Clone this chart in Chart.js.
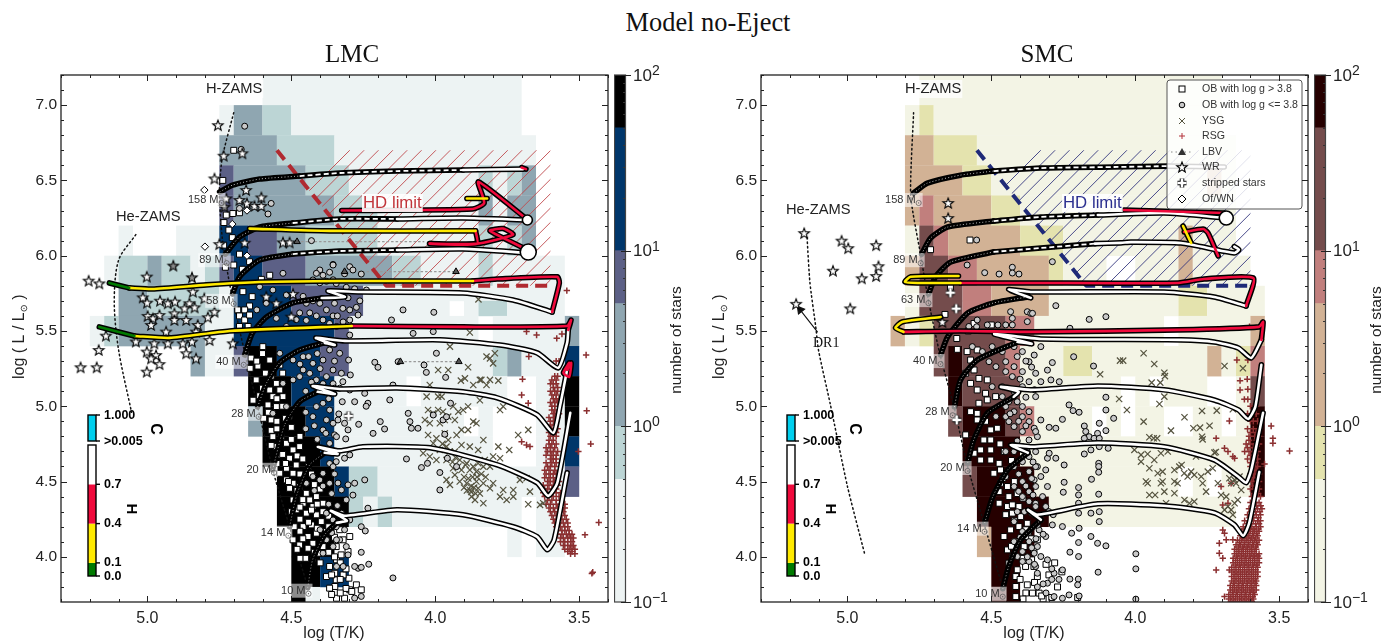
<!DOCTYPE html>
<html>
<head>
<meta charset="UTF-8">
<style>
  html, body { margin: 0; padding: 0; background: #fff; width: 1394px; height: 644px; overflow: hidden; }
  canvas { position: absolute; top: 0; }
  #title { position: absolute; left: 0; width: 1416px; top: 7px; text-align: center; font: 26.4px "Liberation Serif", serif; color: #111; }
</style>
<script src="https://cdn.jsdelivr.net/npm/chart.js@4"></script>
</head>
<body>
<div id="title">Model no-Eject</div>
<canvas id="lmc" width="610" height="644" style="left:0"></canvas>
<canvas id="lmcBar" width="90" height="644" style="left:614px"></canvas>
<canvas id="smc" width="610" height="644" style="left:700px"></canvas>
<canvas id="smcBar" width="90" height="644" style="left:1314px"></canvas>
<script>
// axis ticks
const xMajor = [5.0, 4.5, 4.0, 3.5];
const xMinor = [5.3, 5.2, 5.1, 4.9, 4.8, 4.7, 4.6, 4.4, 4.3, 4.2, 4.1, 3.9, 3.8, 3.7, 3.6, 3.4];
const yMajor = [7.0, 6.5, 6.0, 5.5, 5.0, 4.5, 4.0];
const yMinor = [7.2, 7.1, 6.9, 6.8, 6.7, 6.6, 6.4, 6.3, 6.2, 6.1, 5.9, 5.8, 5.7, 5.6, 5.4, 5.3, 5.2, 5.1, 4.9, 4.8, 4.7, 4.6, 4.4, 4.3, 4.2, 4.1, 3.9, 3.8];

// colour bar
const barLevels = [0.1, 0.5, 1, 5, 10, 50, 100];
const barMinor = [0.2, 0.3, 0.4, 0.5, 0.6, 0.7, 0.8, 0.9, 2, 3, 4, 5, 6, 7, 8, 9, 20, 30, 40, 50, 60, 70, 80, 90];
const lmcColors = ['#edf3f3', '#bcd5d5', '#8fa6b1', '#5c6086', '#00366a', '#000000'];
const smcColors = ['#f3f4e5', '#e4e3ae', '#d2b295', '#c17f7d', '#744c4c', '#260000'];

// star-count grid, one list per row: [first column, last column, colour bar band]
// a column is 0.05 dex wide, column 0 starts at log T = 5.30
const rowTops    = [7.2, 7.0, 6.8, 6.6, 6.4, 6.2, 6.0, 5.8, 5.7, 5.6, 5.4, 5.2, 5.0, 4.8, 4.6, 4.4, 4.2, 4.0, 3.8];
const rowBottoms = [7.0, 6.8, 6.6, 6.4, 6.2, 6.0, 5.8, 5.7, 5.6, 5.4, 5.2, 5.0, 4.8, 4.6, 4.4, 4.2, 4.0, 3.8, 3.6];
const lmcGrid = [
  [[14,31,1]],
  [[11,11,1],[12,13,3],[14,15,2],[16,31,1]],
  [[11,14,3],[15,18,2],[19,32,1]],
  [[11,11,4],[12,16,3],[17,19,2],[20,28,1],[29,29,2],[30,30,1],[31,31,2],[32,32,3]],
  [[11,11,4],[12,18,3],[19,21,2],[22,28,1],[29,29,3],[30,30,1],[31,32,3]],
  [[4,4,1],[8,10,1],[11,12,5],[13,14,4],[15,16,3],[17,21,2],[22,28,1],[29,29,2],[30,30,1],[31,31,2],[32,32,3]],
  [[3,3,1],[4,5,2],[6,6,3],[7,8,2],[9,9,1],[10,10,2],[11,11,4],[12,13,5],[14,16,4],[17,22,3],[23,24,2],[25,28,1],[29,29,2],[30,34,1]],
  [[4,5,3],[6,10,2],[11,11,1],[12,15,5],[16,20,4],[21,34,1]],
  [[4,5,3],[6,10,2],[11,11,1],[12,15,5],[16,20,4],[21,26,1],[28,28,1],[29,30,2],[31,34,1]],
  [[2,2,1],[3,3,2],[4,9,3],[10,11,1],[12,18,5],[19,19,4],[20,28,1],[30,34,1],[35,35,3]],
  [[9,9,3],[10,11,1],[12,12,4],[13,14,6],[15,17,5],[18,19,4],[20,29,1],[30,30,2],[31,31,3],[32,34,1],[35,35,5]],
  [[13,15,6],[16,18,5],[19,23,1],[25,30,1],[33,34,1],[35,35,6]],
  [[13,13,3],[14,16,6],[17,18,5],[19,27,1],[29,29,1],[33,34,1],[35,35,6]],
  [[14,17,6],[18,18,5],[19,29,1],[33,34,1],[35,35,5]],
  [[15,18,6],[19,19,5],[20,21,2],[22,34,1],[35,35,4]],
  [[15,19,6],[20,20,2],[21,21,1],[22,22,2],[23,31,1],[33,34,1]],
  [[16,18,6],[31,31,1],[33,34,1]],
  [[16,17,6],[18,19,5]],
  [[16,16,6],[17,17,1]]
];
const smcGrid = [
  [[11,31,1]],
  [[10,10,1],[11,11,2],[12,31,1]],
  [[10,11,3],[12,14,2],[15,32,1]],
  [[10,13,3],[14,15,2],[16,30,1],[31,31,3],[32,32,1]],
  [[10,10,3],[11,11,4],[12,15,3],[16,17,2],[18,32,1]],
  [[10,10,1],[11,11,5],[12,12,4],[13,17,3],[18,20,2],[21,28,1],[29,29,3],[30,32,1]],
  [[10,10,3],[11,12,5],[13,14,4],[15,19,3],[20,20,2],[21,23,1],[26,28,1],[29,29,3],[30,33,1]],
  [[10,10,1],[11,13,5],[14,15,4],[16,19,3],[20,28,1],[29,30,2],[31,34,1]],
  [[10,10,1],[11,13,5],[14,15,4],[16,19,3],[20,28,1],[29,30,2],[31,34,1]],
  [[9,9,3],[10,10,1],[11,11,2],[12,16,5],[17,18,4],[19,27,1],[29,33,1],[34,34,3]],
  [[12,12,5],[13,13,6],[14,16,5],[17,17,4],[18,20,1],[21,22,2],[23,30,1],[31,31,3],[32,32,1],[33,33,2],[34,34,4]],
  [[13,13,6],[14,17,5],[18,24,1],[26,26,1],[28,30,1],[33,33,1],[34,34,5]],
  [[13,13,5],[14,16,6],[17,17,5],[18,18,4],[19,22,1],[24,24,1],[26,27,1],[30,31,1],[33,33,1],[34,34,6]],
  [[14,17,6],[18,33,1],[34,34,6]],
  [[14,14,5],[15,18,6],[19,28,1],[30,30,1],[32,33,1],[34,34,6]],
  [[15,19,6],[20,32,1]],
  [[15,15,3],[16,18,6]],
  [[16,17,6]],
  [[16,16,5],[17,17,6]]
];

// HD limit outline
const hdLimit = [[4.55, 6.7], [3.6, 6.7], [3.6, 5.8], [4.17, 5.8]];
const hdDash = [[4.55, 6.7], [4.17, 5.8], [3.6, 5.8]];

// ZAMS lines
const lmcHZams = [[4.70, 6.95], [4.74, 6.65], [4.75, 6.42], [4.74, 6.12], [4.715, 5.82], [4.66, 5.34], [4.617, 5.0], [4.565, 4.58], [4.506, 4.2], [4.443, 3.8]];
const lmcHeZams = [[5.04, 6.14], [5.10, 5.97], [5.115, 5.69], [5.10, 5.375], [5.055, 4.96]];
const smcHZams = [[4.77, 6.95], [4.78, 6.4], [4.745, 6.0], [4.72, 5.72], [4.678, 5.34], [4.63, 5.0], [4.585, 4.62], [4.525, 4.22], [4.46, 3.79]];
const smcHeZams = [[5.14, 6.12], [5.13, 5.82], [5.11, 5.53], [5.10, 5.37], [5.06, 5.02], [5.0, 4.47], [4.94, 4.02]];
const dr1Arrow = [[5.164, 5.64], [5.104, 5.494]];

// LMC tracks: rising (black) part, dashed part, then white, red, yellow, green parts
const lmcT158Rise = [[4.749, 6.423], [4.704, 6.469], [4.61, 6.509], [4.471, 6.529]];
const lmcT158Early = [[4.471, 6.529], [4.332, 6.549], [4.133, 6.562], [3.904, 6.569]];
const lmcT158White = [[3.904, 6.569], [3.695, 6.575]];
const lmcT158Red = [[3.7, 6.585], [3.685, 6.575]];
const lmcT89Rise = [[4.729, 6.011], [4.68, 6.124], [4.61, 6.19], [4.495, 6.217]];
const lmcT89Early = [[4.495, 6.217], [4.332, 6.244], [4.133, 6.244]];
const lmcT89White = [[4.133, 6.244], [3.904, 6.25], [3.68, 6.237]];
const lmcT89Red = [[3.68, 6.24], [3.85, 6.49], [3.83, 6.35], [3.87, 6.31], [4.325, 6.30]];
const lmcT89Yellow = [[3.82, 6.38], [3.89, 6.38]];
const lmcT58Rise = [[4.704, 5.746], [4.68, 5.859], [4.61, 5.971], [4.495, 6.011]];
const lmcT58Early = [[4.495, 6.011], [4.332, 6.031], [4.133, 6.038]];
const lmcT58White = [[4.133, 6.038], [3.904, 6.045], [3.677, 6.018]];
const lmcT58Red = [[3.68, 6.04], [3.81, 6.165], [3.765, 6.18], [3.73, 6.14], [3.855, 6.08], [4.02, 6.08], [3.855, 6.08], [3.86, 6.165]];
const lmcT58Yellow = [[3.86, 6.165], [4.367, 6.165], [4.645, 6.18]];
const lmcT40Rise = [[4.662, 5.341], [4.635, 5.487], [4.586, 5.593], [4.495, 5.686], [4.394, 5.719]];
const lmcT40White = [[4.394, 5.719], [4.314, 5.726], [4.373, 5.766], [4.262, 5.759], [3.904, 5.752], [3.73, 5.706], [3.594, 5.626]];
const lmcT40Red = [[3.594, 5.626], [3.569, 5.819], [3.576, 5.859], [3.785, 5.845], [3.869, 5.832]];
const lmcT40Yellow = [[3.869, 5.832], [4.332, 5.832], [4.61, 5.825], [4.795, 5.806], [4.983, 5.779], [5.063, 5.786]];
const lmcT40Green = [[5.063, 5.786], [5.132, 5.819]];
const lmcT28Rise = [[4.617, 4.996], [4.586, 5.155], [4.541, 5.288], [4.471, 5.374], [4.384, 5.421]];
const lmcT28White = [[4.384, 5.421], [4.349, 5.407], [4.415, 5.454], [4.314, 5.434], [3.984, 5.441], [3.775, 5.407], [3.646, 5.354], [3.573, 5.255], [3.542, 5.421], [3.538, 5.507]];
const lmcT28Red = [[3.538, 5.507], [3.528, 5.573], [3.542, 5.533], [3.904, 5.527], [4.29, 5.533]];
const lmcT28Yellow = [[4.29, 5.533], [4.715, 5.50], [4.923, 5.454], [5.045, 5.467]];
const lmcT28Green = [[5.045, 5.467], [5.167, 5.527]];
const lmcT20Rise = [[4.565, 4.578], [4.523, 4.877], [4.471, 5.03], [4.408, 5.096]];
const lmcT20White = [[4.408, 5.096], [4.349, 5.082], [4.426, 5.135], [4.332, 5.115], [4.133, 5.122], [3.904, 5.096], [3.785, 5.056], [3.646, 4.943], [3.59, 4.823], [3.566, 5.009], [3.542, 5.242]];
const lmcT20Red = [[3.542, 5.242], [3.528, 5.288], [3.535, 5.195], [3.555, 5.222], [3.535, 5.288]];
const lmcT14Rise = [[4.506, 4.2], [4.481, 4.412], [4.436, 4.611], [4.384, 4.691]];
const lmcT14White = [[4.384, 4.691], [4.339, 4.684], [4.408, 4.731], [4.332, 4.704], [4.252, 4.731], [4.018, 4.724], [3.785, 4.611], [3.646, 4.492], [3.608, 4.405], [3.576, 4.492], [3.531, 4.956]];
const lmcT10Rise = [[4.443, 3.795], [4.426, 3.981], [4.384, 4.147], [4.342, 4.226]];
const lmcT10White = [[4.342, 4.226], [4.307, 4.24], [4.363, 4.306], [4.314, 4.273], [4.133, 4.313], [3.904, 4.279], [3.73, 4.2], [3.646, 4.133], [3.611, 4.047], [3.587, 4.113], [3.542, 4.558]];
const lmcEnds = [[3.68, 6.237, 5], [3.677, 6.024, 8]];

// SMC tracks
const smcT158Rise = [[4.77, 6.416], [4.722, 6.482], [4.607, 6.535], [4.492, 6.562]];
const smcT158Early = [[4.492, 6.562], [4.328, 6.582], [4.074, 6.589], [3.886, 6.595]];
const smcT158White = [[3.886, 6.595], [3.691, 6.589]];
const smcT89Rise = [[4.742, 6.011], [4.711, 6.117], [4.652, 6.19], [4.492, 6.23]];
const smcT89Early = [[4.492, 6.23], [4.328, 6.257], [4.13, 6.27]];
const smcT89White = [[4.13, 6.27], [3.9, 6.283], [3.684, 6.25]];
const smcT89Red = [[3.691, 6.283], [4.039, 6.303]];
const smcT63Rise = [[4.718, 5.746], [4.694, 5.859], [4.641, 5.958], [4.492, 6.025]];
const smcT63Early = [[4.492, 6.025], [4.328, 6.051], [4.14, 6.08]];
const smcT63White = [[4.14, 6.08], [4.05, 6.085], [4.015, 6.09], [3.841, 6.084], [3.656, 6.018], [3.64, 6.04], [3.656, 6.06]];
const smcT63Red = [[3.712, 5.998], [3.747, 6.15], [3.764, 6.177], [3.83, 6.157]];
const smcT63Yellow = [[3.834, 6.197], [3.806, 6.084]];
const smcT40Rise = [[4.676, 5.341], [4.652, 5.46], [4.582, 5.62], [4.492, 5.686], [4.373, 5.726]];
const smcT40White = [[4.373, 5.726], [4.363, 5.72], [4.44, 5.775], [4.363, 5.759], [3.9, 5.759], [3.726, 5.726], [3.615, 5.666]];
const smcT40Red = [[3.615, 5.666], [3.59, 5.852], [3.761, 5.845], [3.851, 5.819], [4.363, 5.819], [4.607, 5.819]];
const smcT40Yellow = [[4.607, 5.819], [4.756, 5.819], [4.80, 5.826], [4.78, 5.86], [4.614, 5.865]];
const smcT28Rise = [[4.628, 4.996], [4.607, 5.175], [4.548, 5.308], [4.408, 5.427]];
const smcT28White = [[4.408, 5.427], [4.36, 5.415], [4.49, 5.48], [4.328, 5.447], [3.841, 5.441], [3.726, 5.427], [3.642, 5.387], [3.597, 5.321], [3.562, 5.441]];
const smcT28Red = [[3.562, 5.441], [3.556, 5.56], [3.57, 5.527], [3.851, 5.507], [4.363, 5.494], [4.607, 5.5], [4.805, 5.494]];
const smcT28Yellow = [[4.805, 5.494], [4.833, 5.52], [4.81, 5.56], [4.676, 5.593]];
const smcT20Rise = [[4.582, 4.624], [4.561, 4.777], [4.513, 4.956], [4.422, 5.062]];
const smcT20White = [[4.422, 5.062], [4.405, 5.096], [4.467, 5.129], [4.363, 5.109], [4.13, 5.135], [3.9, 5.109], [3.726, 5.042], [3.642, 4.976], [3.608, 4.916], [3.583, 4.996], [3.562, 5.275]];
const smcT14Rise = [[4.523, 4.226], [4.495, 4.399], [4.443, 4.578], [4.373, 4.691]];
const smcT14White = [[4.373, 4.691], [4.433, 4.744], [4.363, 4.731], [4.13, 4.757], [3.9, 4.731], [3.726, 4.644], [3.642, 4.532], [3.615, 4.492], [3.597, 4.578], [3.556, 4.956]];
const smcT10Rise = [[4.46, 3.788], [4.44, 3.934], [4.398, 4.113], [4.328, 4.246]];
const smcT10White = [[4.328, 4.246], [4.373, 4.313], [4.339, 4.28], [4.13, 4.352], [3.9, 4.339], [3.726, 4.293], [3.656, 4.213], [3.625, 4.14], [3.604, 4.226], [3.569, 4.564]];
const smcEnds = [[3.684, 6.25, 7]];

// LMC stars
const lmcWr = [[4.755,6.867],[4.735,6.664],[4.67,6.68],[4.767,6.513],[4.657,6.436],[4.726,6.38],[4.604,6.387],[4.68,6.37],[4.654,6.347],[4.628,6.33],[4.604,6.33],[4.75,6.077],[4.662,6.086],[4.529,6.088],[4.506,6.088],[5.204,5.834],[5.167,5.816],[5.002,5.861],[4.842,5.761],[5.016,5.723],[5.001,5.688],[4.956,5.701],[4.929,5.684],[4.904,5.695],[4.854,5.684],[4.836,5.657],[4.871,5.65],[4.906,5.617],[4.958,5.606],[4.999,5.6],[4.981,5.584],[4.802,5.717],[4.767,5.628],[4.79,5.591],[4.865,5.573],[4.906,5.573],[4.825,5.54],[4.987,5.54],[4.935,5.496],[4.831,5.496],[5.144,5.469],[5.169,5.374],[5.232,5.259],[5.176,5.259],[5.002,5.23],[4.958,5.28],[5.002,5.363],[4.97,5.34],[4.987,5.318],[4.865,5.352],[4.831,5.318],[4.877,5.418],[4.976,5.418],[4.929,5.418],[4.784,5.44],[4.845,5.429],[4.703,5.418],[5.04,5.43],[4.552,5.684],[4.494,5.746],[4.587,5.728],[4.5,5.595]];
const lmcWrGrey = [[4.91,5.934],[4.845,5.856],[4.732,6.325]];
const lmcOf = [[4.802,6.436],[4.654,6.3],[4.705,6.21],[4.8,6.06],[4.654,6.0]];
const lmcStripped = [[4.301,4.936]];
const lmcLbv = [[4.48,6.093],[4.315,5.894],[3.928,5.894],[4.121,5.296],[3.918,5.296]];
const lmcLbvLines = [[[4.48,6.093],[4.04,6.093]],[[4.315,5.894],[3.928,5.894]],[[4.121,5.296],[3.918,5.296]]];
const lmcObHigh = [[4.70,6.70],[4.738,6.5],[4.726,6.27],[4.703,6.28],[4.68,6.285],[4.734,6.22],[4.717,6.17],[4.705,6.12],[4.735,6.07],[4.68,6.01],[4.645,5.96],[4.70,5.938],[4.729,5.923],[4.67,5.91],[4.575,5.87],[4.604,5.843],[4.636,5.728],[4.668,5.761],[4.645,5.666],[4.662,5.64],[4.686,5.64],[4.68,5.6],[4.662,5.573],[4.645,5.606],[4.68,5.53],[4.65,5.53],
  [4.616,5.267],[4.643,5.252],[4.622,5.175],[4.633,5.04],[4.596,4.92],[4.57,4.909],[4.552,5.152],[4.54,5.108],[4.575,5.108],[4.564,5.064],[4.529,5.064],[4.581,5.009],[4.552,4.998],[4.54,5.274],[4.575,5.307],[4.599,5.396],[4.64,5.32],[4.564,4.798],[4.535,4.798],[4.57,4.84],[4.552,4.732],[4.517,4.754],[4.494,4.71],[4.471,4.732],[4.54,4.677],[4.506,4.655],[4.483,4.61],[4.517,4.588],[4.494,4.555],[4.54,4.555],[4.517,4.511],[4.494,4.489],[4.506,4.455],[4.471,4.467],[4.448,4.422],[4.436,4.378],[4.413,4.4],[4.459,4.356],[4.494,4.378],[4.425,4.334],[4.39,4.356],[4.448,4.29],[4.413,4.279],[4.483,4.312],[4.43,4.212],[4.396,4.234],[4.459,4.201],[4.413,4.157],[4.442,4.135],[4.378,4.168],[4.494,4.113],[4.471,4.079],[4.425,4.09],[4.442,4.057],[4.39,4.068],[4.407,4.024],[4.378,3.869],[4.367,3.936],[4.349,3.891],[4.343,3.98],[4.349,3.803],[4.367,3.792],[4.343,3.725],[4.344,3.847],[4.315,3.725],[4.3,3.858],[4.274,3.814],[4.257,3.781],[4.297,3.781],[4.32,3.88],[4.35,4.0],[4.327,4.013],[4.303,4.035],[4.297,4.135],[4.32,4.113],[4.344,4.068],[4.332,4.18],
  [4.60,5.35],[4.62,5.30],[4.59,5.22],[4.60,5.12],[4.57,5.20],[4.53,5.22],[4.61,5.07],[4.55,5.05],[4.53,5.0],[4.58,4.96],[4.55,4.9],[4.52,4.92],[4.50,4.86],[4.55,4.85],[4.53,4.68],[4.57,4.74],[4.50,4.78],[4.47,4.8],[4.48,4.67],[4.46,4.65],[4.52,4.62],[4.55,4.62],[4.44,4.6],[4.47,4.55],[4.43,4.55],[4.51,4.5],[4.46,4.5],[4.42,4.48],[4.40,4.45],[4.48,4.44],[4.46,4.38],[4.41,4.35],[4.43,4.31],[4.47,4.33],[4.5,4.3],[4.39,4.3],[4.37,4.27],[4.47,4.25],[4.44,4.23],[4.41,4.19],[4.47,4.17],[4.49,4.2],[4.37,4.2],[4.35,4.13],[4.39,4.12],[4.46,4.12],[4.48,4.05],[4.45,3.99],[4.42,4.03],[4.37,4.03],[4.47,3.99],[4.40,3.96],[4.36,3.88],[4.33,3.85],[4.31,3.79],[4.33,3.76],[4.36,3.75],[4.29,3.77],[4.31,3.92],[4.33,3.96]];
const lmcObLow = [[4.662,6.86],[4.674,6.706],[4.57,6.347],[4.581,6.277],[4.68,6.314],[4.43,6.1],[4.355,5.942],[4.529,5.883],[4.401,5.905],[4.413,5.883],[4.39,5.87],[4.367,5.89],[4.425,5.839],[4.378,5.83],[4.401,5.82],[4.355,5.84],[4.459,5.73],[4.448,5.684],[4.425,5.7],[4.401,5.684],[4.378,5.64],[4.355,5.6],[4.471,5.62],[4.436,5.62],[4.413,5.6],[4.483,5.575],[4.448,5.57],[4.39,5.573],[4.367,5.55],[4.343,5.53],[4.61,5.794],[4.564,5.772],[4.517,5.739],[4.587,5.684],[4.62,5.64],[4.552,5.584],[4.517,5.53],
  [4.355,5.938],[4.297,5.927],[4.286,5.905],[4.257,5.878],[4.315,5.88],[4.344,5.815],[4.309,5.79],[4.28,5.78],[4.239,5.772],[4.303,5.72],[4.262,5.7],[4.35,5.684],[4.321,5.65],[4.297,5.64],[4.274,5.657],[4.268,5.606],[4.297,5.573],[4.112,5.64],[4.005,5.624],[4.152,5.573],[4.077,5.484],[4.007,5.496],[4.297,5.473],[4.34,5.6],[4.32,5.56],
  [4.332,5.352],[4.301,5.307],[4.21,5.292],[4.199,5.259],[4.129,5.296],[4.039,5.274],[4.031,5.225],[3.996,5.352],[3.964,5.192],[4.295,5.208],[4.326,5.219],[4.355,5.15],[4.321,5.163],[4.332,5.12],[4.297,5.108],[4.147,5.141],[4.245,5.086],[4.28,5.03],[4.323,5.03],[4.234,5.02],[4.158,5.042],[4.24,5.0],[4.094,4.953],[4.088,4.898],[4.191,4.898],[4.176,4.849],[4.083,4.854],[4.06,4.854],[4.266,4.88],[4.303,4.843],[4.216,4.82],[4.007,4.942],[3.973,4.909],[3.961,4.93],[3.967,4.814],[3.947,5.02],[4.335,4.949],[4.338,4.909],[4.315,4.887],[4.35,4.81],[4.311,4.783],[4.1,4.65],[4.048,4.593],[4.027,4.621],[3.958,4.655],[3.926,4.599],[3.984,4.56],[3.984,4.444],[4.297,4.677],[4.315,4.655],[4.344,4.632],[4.367,4.62],[4.28,4.489],[4.245,4.511],[4.303,4.478],[4.326,4.444],[4.286,4.41],[4.309,4.378],[4.338,4.49],[4.234,4.323],[4.257,4.2],[4.243,4.172],[4.326,4.29],[4.297,4.245],[4.315,4.18],[4.344,4.2],[4.332,4.113],[4.309,4.068],[4.257,4.03],[4.303,4.013],[4.268,3.924],[4.231,3.951],[4.257,3.93],[4.28,3.936],[4.147,3.86],[4.32,3.936],[4.257,3.737],[4.28,3.726],
  [4.54,5.352],[4.494,5.307],[4.459,5.329],[4.425,5.285],[4.39,5.307],[4.367,5.374],[4.436,5.219],[4.413,5.175],[4.378,5.197],[4.355,5.241],[4.459,5.241],[4.494,5.175],[4.471,5.197],[4.378,5.108],[4.529,5.152],[4.39,5.02],[4.367,4.975],[4.378,4.909],[4.413,4.998],[4.425,4.931],[4.355,4.887],[4.39,4.843],[4.343,4.798],[4.367,4.754],[4.517,4.998],[4.564,4.953],[4.506,4.931],[4.39,4.555],[4.355,4.599],[4.401,4.511],[4.367,4.489],[4.448,4.489],[4.425,4.533],[4.378,4.29],[4.355,4.245],[4.378,4.113],[4.355,4.068],[4.39,4.024],[4.343,4.113],[4.425,3.98],[4.343,3.936],
  [4.44,5.33],[4.41,5.35],[4.47,5.28],[4.4,5.25],[4.35,5.3],[4.43,5.16],[4.39,5.15],[4.35,5.12],[4.45,5.1],[4.37,5.05],[4.45,4.96],[4.42,4.87],[4.38,4.82],[4.45,4.85],[4.41,4.78],[4.35,4.55],[4.39,4.47],[4.36,4.42],[4.42,4.44],[4.37,4.35],[4.4,4.18],[4.36,4.16],[4.34,4.34]];
const lmcYsg = [[3.949,5.396],[3.793,5.352],[3.81,5.318],[3.822,5.33],[3.799,5.285],[3.886,5.259],[3.99,5.241],[3.955,5.241],[3.897,5.185],[3.911,5.17],[3.84,5.175],[3.845,5.175],[3.81,5.175],[3.781,5.17],[3.822,5.141],[3.868,5.141],[4.019,5.141],[3.99,5.064],[4.03,5.064],[3.978,5.064],[3.938,5.0],[3.92,4.964],[3.903,4.975],[3.886,4.998],[3.845,5.04],[3.764,4.998],[3.775,4.975],
  [4.025,4.975],[4.007,4.953],[3.99,4.975],[3.973,4.964],[3.955,4.931],[4.036,4.909],[4.019,4.887],[3.984,4.887],[3.967,4.909],[3.932,4.909],[3.857,4.887],[3.868,4.898],[3.909,4.843],[3.886,4.843],[3.926,4.809],[3.967,4.82],[4.025,4.809],[3.996,4.787],[3.955,4.776],[3.833,4.776],[3.781,4.732],[3.743,4.71],[3.677,4.843],[3.712,4.809],[4.007,4.754],[3.984,4.71],[3.961,4.732],[3.932,4.699],[3.909,4.743],[3.88,4.732],[3.851,4.71],[4.042,4.688],[4.019,4.666],[3.996,4.643],[3.961,4.643],[3.915,4.643],[3.891,4.621],[3.868,4.599],[3.851,4.621],[3.828,4.643],[3.799,4.666],[3.775,4.655],[3.938,4.588],[3.909,4.577],[3.88,4.577],[3.857,4.566],[3.833,4.599],[3.81,4.599],[3.961,4.511],[3.932,4.544],[3.915,4.5],[3.891,4.489],[3.857,4.5],[3.833,4.489],[3.799,4.489],[3.764,4.444],[3.729,4.444],[3.706,4.511],[3.671,4.433],[3.625,4.356],[3.636,4.345],[3.949,4.478],[3.874,4.4],[3.862,4.378],[3.833,4.356],[3.775,4.4],[3.752,4.378],[3.677,4.349],[3.851,4.455],[3.88,4.444],[3.81,4.455],[3.729,4.4],[3.683,4.522],[3.85,5.71],[3.88,5.49],
  [3.9,4.53],[3.885,4.52],[3.87,4.53],[3.875,4.47],[3.865,4.46],[3.89,4.44],[3.9,4.46],[3.845,4.42],[3.86,4.42],[3.875,4.43],[3.84,4.55],[3.855,4.53],[3.825,4.53],[3.92,4.6],[3.895,4.61],[3.94,4.63],[3.975,4.75],[3.95,4.7],[3.93,4.66]];
const lmcRsgOut = [[3.675,5.33],[3.476,5.34],[3.697,5.18],[3.7,5.075],[3.677,5.02],[3.474,4.97],[3.46,4.75],[3.503,4.7],[3.7,4.765],[3.683,4.743],[3.671,4.732],[3.432,4.228],[3.48,4.146],[3.453,3.898],[3.456,3.89],[3.543,5.768],[3.683,5.496],[3.648,5.473],[3.578,5.451],[3.56,5.48]];
const lmcRsgRows = [[5.3,[3.58,3.57]],[5.2,[3.585,3.575]],[5.15,[3.59,3.58,3.6]],[5.1,[3.585,3.575,3.6]],[5.05,[3.59,3.58,3.57]],[5.0,[3.595,3.585]],[4.95,[3.59,3.58,3.57]],[4.9,[3.6,3.59,3.58]],[4.85,[3.595,3.585,3.575]],[4.8,[3.6,3.59,3.58]],[4.75,[3.605,3.595,3.58]],[4.7,[3.61,3.6,3.59,3.575]],[4.65,[3.6,3.59,3.58]],[4.6,[3.61,3.6,3.585]],[4.55,[3.615,3.6,3.59,3.58]],[4.5,[3.61,3.6,3.585,3.57]],[4.45,[3.62,3.61,3.595,3.58]],[4.4,[3.62,3.605,3.59,3.57]],[4.35,[3.615,3.6,3.58,3.565,3.55]],[4.3,[3.6,3.585,3.57,3.555]],[4.25,[3.59,3.575,3.56,3.545]],[4.2,[3.58,3.565,3.55,3.54]],[4.15,[3.575,3.56,3.545,3.535,3.525]],[4.1,[3.565,3.55,3.54,3.525]],[4.05,[3.55,3.535,3.525,3.515]],[4.02,[3.53,3.515]],
  [5.175,[3.595,3.58]],[5.125,[3.59,3.575]],[5.075,[3.595,3.58]],[5.025,[3.6,3.585,3.575]],[4.975,[3.595,3.585]],[4.925,[3.605,3.585,3.575]],[4.875,[3.6,3.585]],[4.825,[3.605,3.59,3.58]],[4.775,[3.605,3.59]],[4.725,[3.615,3.6,3.585]],[4.675,[3.615,3.595,3.58]],[4.625,[3.615,3.595,3.58]],[4.575,[3.62,3.605,3.585]],[4.525,[3.62,3.605,3.59,3.575]],[4.475,[3.625,3.605,3.59,3.575]],[4.425,[3.625,3.61,3.595,3.58,3.565]],[4.375,[3.61,3.595,3.58,3.56]],[4.325,[3.605,3.59,3.575,3.56,3.55]],[4.275,[3.595,3.58,3.565,3.55]],[4.225,[3.585,3.57,3.555,3.54]],[4.175,[3.575,3.56,3.55,3.535]],[4.125,[3.565,3.555,3.54,3.53,3.52]],[4.075,[3.555,3.54,3.53,3.52]],[4.035,[3.54,3.525]]];

// SMC stars
const smcWr = [[5.15,6.15],[5.178,5.68],[5.02,6.10],[4.997,6.05],[4.9,6.07],[4.892,5.93],[4.90,5.865],[5.05,5.90],[4.95,5.85],[4.99,5.65],[4.65,6.35],[4.65,6.25],[4.67,5.56]];
const smcStripped = [[4.642,5.754],[4.622,5.648],[4.62,4.909]];
const smcObHigh = [[4.574,6.104],[4.711,6.04],[4.661,5.61],[4.642,5.79],[4.62,5.45],[4.58,5.5],[4.5,5.54],[4.56,5.55],
  [4.618,5.378],[4.584,5.363],[4.549,5.374],[4.572,5.307],[4.56,5.241],[4.589,5.219],[4.543,5.185],[4.514,5.175],[4.572,5.152],[4.549,5.108],[4.52,5.086],[4.514,5.042],[4.543,5.02],[4.485,5.064],[4.549,4.953],[4.572,4.964],[4.549,4.909],[4.589,4.81],[4.502,4.843],[4.479,4.854],[4.526,4.776],[4.502,4.776],[4.502,4.71],[4.537,4.71],[4.56,4.688],[4.537,4.643],[4.473,4.621],[4.502,4.643],[4.491,4.555],[4.468,4.577],[4.468,4.489],[4.444,4.467],[4.473,4.433],[4.439,4.4],[4.473,4.356],[4.444,4.334],[4.427,4.345],[4.404,4.334],[4.398,4.267],[4.427,4.29],[4.404,4.201],[4.433,4.179],[4.456,4.135],[4.375,4.223],[4.375,4.135],[4.386,4.068],[4.444,4.046],[4.439,3.958],[4.352,4.046],[4.34,4.113],[4.381,3.936],[4.352,3.936],[4.34,3.869],[4.41,3.914],[4.415,3.869],[4.415,3.803],[4.415,3.736],[4.375,3.814],[4.357,3.759],[4.334,3.759],[4.32,3.72],[4.29,3.73],[4.27,3.8],[4.3,3.88],[4.31,3.95],[4.28,3.96],[4.255,3.9],[4.325,3.74],[4.2,3.73],
  [4.52,4.9],[4.47,4.75],[4.455,4.7],[4.43,4.64],[4.46,4.52],[4.42,4.5],[4.41,4.42],[4.39,4.39],[4.45,4.28],[4.42,4.24],[4.38,4.18],[4.36,4.12],[4.41,4.1],[4.43,4.07],[4.39,3.99],[4.36,3.98],[4.4,3.85],[4.38,3.76],[4.35,3.83],[4.39,3.72]];
const smcObLow = [[4.551,6.104],[4.584,5.938],[4.523,5.887],[4.473,5.878],[4.427,5.923],[4.427,5.885],[4.404,5.878],[4.433,5.628],[4.427,5.584],[4.427,5.54],[4.375,5.628],[4.363,5.617],[4.375,5.562],[4.514,5.54],[4.477,5.54],[4.45,5.54],[4.578,5.53],[4.549,5.573],[4.551,5.528],[4.288,5.96],[4.276,5.668],[4.16,5.577],[4.102,5.595],[4.357,5.617],[4.227,5.518],
  [4.214,5.329],[4.145,5.267],[4.288,5.29],[4.328,5.396],[4.351,5.34],[4.346,5.219],[4.305,5.24],[4.328,5.163],[4.293,5.175],[4.264,5.163],[4.23,5.009],[4.216,4.971],[4.195,4.96],[4.102,5.06],[4.102,4.975],[4.075,4.92],[4.125,4.887],[4.102,4.838],[4.177,4.869],[4.172,4.832],[4.16,4.798],[4.131,4.82],[4.143,4.787],[4.177,4.787],[4.125,4.787],[4.253,4.913],[4.299,4.86],[4.276,4.854],[4.328,4.909],[4.351,4.854],[4.34,4.798],[4.094,4.721],[4.125,4.732],[4.154,4.71],[4.177,4.683],[4.127,4.621],[4.127,4.6],[4.127,4.562],[4.152,4.515],[4.247,4.61],[4.305,4.655],[4.276,4.655],[4.299,4.688],[4.34,4.599],[4.311,4.577],[4.351,4.511],[4.328,4.533],[4.305,4.467],[4.247,4.495],[4.25,4.429],[4.197,4.46],[4.197,4.411],[4.127,4.416],[4.197,4.356],[4.322,4.4],[4.346,4.356],[4.311,4.334],[4.197,4.29],[4.154,4.29],[4.125,4.3],[4.125,4.234],[4.195,4.19],[4.253,4.201],[4.221,4.157],[4.288,4.212],[4.328,4.245],[4.351,4.279],[4.334,4.179],[4.311,4.135],[4.154,4.135],[4.131,4.09],[4.102,4.073],[4.197,4.095],[4.227,4.031],[4.197,4.002],[3.998,4.02],[3.998,3.92],[4.129,3.898],[3.998,3.719],[4.253,3.913],[4.227,3.852],[4.198,3.852],[4.2,3.814],[4.23,3.747],[4.253,3.725],[4.195,3.74],[4.282,3.736],[4.282,3.891],[4.305,3.98],[4.34,4.068],[4.351,4.024],[4.328,4.002],[4.305,3.825],[4.34,3.891],
  [4.566,5.396],[4.531,5.363],[4.497,5.396],[4.462,5.363],[4.421,5.396],[4.392,5.363],[4.45,5.296],[4.508,5.296],[4.484,5.263],[4.421,5.263],[4.369,5.296],[4.392,5.23],[4.45,5.23],[4.427,5.197],[4.369,5.163],[4.462,5.13],[4.497,5.13],[4.421,5.097],[4.392,5.13],[4.346,5.064],[4.462,5.064],[4.439,5.031],[4.45,4.998],[4.392,4.998],[4.421,4.964],[4.369,4.964],[4.392,4.931],[4.45,4.931],[4.439,4.898],[4.369,4.898],[4.421,4.865],[4.392,4.832],[4.346,4.832],[4.369,4.776],[4.484,4.932],[4.392,4.732],[4.421,4.699],[4.346,4.699],[4.369,4.666],[4.45,4.699],[4.392,4.632],[4.421,4.599],[4.346,4.599],[4.369,4.566],[4.45,4.532],[4.392,4.5],[4.346,4.467],[4.369,4.433],[4.421,4.467],[4.392,4.4],[4.369,4.367],[4.346,4.334],[4.421,4.234],[4.392,4.168],[4.369,4.101],[4.392,4.035],[4.369,3.969],[4.41,4.002],[4.346,3.936],[4.421,4.101],[4.392,3.969],[4.427,4.002],
  [4.41,5.33],[4.38,5.3],[4.36,5.26],[4.4,5.18],[4.35,5.11],[4.41,5.03],[4.38,5.06],[4.435,4.95],[4.405,4.9],[4.38,4.87],[4.41,4.77],[4.375,4.7],[4.355,4.63],[4.405,4.55],[4.36,4.52],[4.38,4.47],[4.405,4.435],[4.355,4.41],[4.385,4.3],[4.36,4.29],[4.41,4.3],[4.34,4.21],[4.37,4.16],[4.345,4.12],[4.4,4.13],[4.36,4.06],[4.375,4.0],[4.35,3.95],[4.32,4.15],[4.3,4.3],[4.285,4.28],[4.32,3.82],[4.29,3.85],[4.265,3.85],[4.31,3.76],[4.34,3.8],[4.29,3.92]];
const smcYsg = [[3.971,5.352],[4.053,5.303],[4.042,5.303],[4.122,5.212],[3.934,5.281],[3.899,5.223],[3.897,5.2],[3.69,5.267],[3.626,5.252],[3.943,5.157],[3.913,5.157],[3.916,5.015],[3.899,5.064],[4.056,5.048],[4.029,4.975],[3.971,4.898],[3.829,4.927],[3.768,4.969],[3.717,4.971],[3.661,4.98],[3.876,4.838],[3.798,4.854],[3.775,4.858],[3.768,4.798],[3.766,4.78],[3.742,4.871],[3.951,4.794],[3.936,4.787],[3.924,4.787],[4.003,4.71],[3.98,4.677],[3.957,4.683],[3.98,4.632],[3.934,4.643],[3.911,4.688],[3.887,4.699],[3.951,4.588],[3.922,4.555],[3.905,4.566],[3.789,4.666],[3.725,4.692],[3.72,4.696],[3.839,4.61],[3.864,4.577],[3.847,4.599],[3.731,4.588],[3.83,4.555],[3.806,4.566],[3.795,4.544],[3.771,4.533],[3.748,4.566],[3.818,4.533],[3.957,4.489],[3.911,4.489],[3.905,4.5],[3.864,4.5],[3.853,4.489],[3.963,4.5],[3.899,4.433],[3.864,4.422],[3.766,4.489],[3.951,4.411],[3.931,4.411],[3.754,4.433],[3.713,4.489],[3.673,4.522],[3.655,4.511],[3.667,4.489],[3.893,4.356],[3.829,4.378],[3.812,4.356],[3.795,4.367],[3.702,4.411],[3.69,4.312],[3.678,4.334],[3.667,4.312],[3.655,4.356],[3.644,4.378],[3.661,4.279],[3.632,4.444],[3.65,4.489],[3.638,4.533],[3.684,4.4]];
const smcRsgOut = [[3.647,5.307],[3.609,5.307],[3.636,5.17],[3.611,5.18],[3.636,5.108],[3.609,5.113],[3.621,5.046],[3.609,5.046],[3.673,4.902],[3.528,4.869],[3.522,4.787],[3.522,4.754],[3.464,4.703],[3.719,4.787],[3.69,4.721],[3.678,4.699],[3.661,4.666],[3.655,4.655],[3.551,4.617],[3.702,4.467],[3.667,4.489],[3.696,4.345],[3.678,4.356],[3.696,4.179],[3.69,4.157],[3.708,4.09],[3.684,4.113],[3.661,4.113],[3.708,4.024],[3.696,3.991],[3.719,3.913],[3.673,3.913],[3.69,3.736],[3.603,5.529]];
const smcRsgRows = [[5.0,[3.6,3.59,3.58]],[4.95,[3.61,3.595,3.58]],[4.9,[3.6,3.59,3.575]],[4.85,[3.61,3.59,3.57]],[4.8,[3.605,3.585,3.57]],[4.75,[3.615,3.6,3.58,3.57]],[4.7,[3.62,3.605,3.59,3.575]],[4.65,[3.61,3.59,3.575]],[4.6,[3.6,3.585,3.575]],[4.55,[3.6,3.585,3.57]],[4.5,[3.595,3.58,3.57]],[4.45,[3.6,3.585,3.57]],[4.4,[3.595,3.58,3.565]],[4.36,[3.6,3.585,3.57]],[4.32,[3.605,3.59,3.575,3.56]],[4.28,[3.61,3.595,3.58,3.565]],[4.24,[3.62,3.605,3.59,3.575,3.565]],[4.2,[3.625,3.61,3.595,3.58,3.565]],[4.17,[3.63,3.615,3.6,3.585,3.57]],[4.14,[3.635,3.62,3.605,3.59,3.575]],[4.11,[3.645,3.63,3.615,3.6,3.585,3.57]],[4.08,[3.65,3.635,3.62,3.605,3.59,3.575]],[4.05,[3.655,3.64,3.625,3.61,3.595,3.58]],[4.02,[3.655,3.64,3.625,3.61,3.595,3.58,3.57]],[3.99,[3.66,3.645,3.63,3.615,3.6,3.585,3.57]],[3.96,[3.66,3.645,3.63,3.615,3.6,3.585,3.57]],[3.93,[3.665,3.65,3.635,3.62,3.605,3.59,3.575]],[3.9,[3.665,3.65,3.635,3.62,3.605,3.59,3.575]],[3.87,[3.665,3.65,3.635,3.62,3.605,3.59,3.575]],[3.84,[3.665,3.65,3.635,3.62,3.605,3.59,3.58]],[3.81,[3.67,3.655,3.64,3.625,3.61,3.595,3.58]],[3.78,[3.67,3.655,3.64,3.625,3.61,3.595,3.58]],[3.75,[3.675,3.66,3.645,3.63,3.615,3.6,3.585]],[3.72,[3.675,3.66,3.645,3.63,3.615,3.6,3.59]],
  [3.705,[3.668,3.653,3.637,3.622,3.607,3.595]],[3.735,[3.668,3.652,3.637,3.622,3.607,3.592]],[3.765,[3.662,3.648,3.632,3.618,3.602,3.59]],[3.795,[3.662,3.647,3.632,3.617,3.602,3.588]],[3.825,[3.658,3.642,3.628,3.612,3.598,3.584]],[3.855,[3.657,3.642,3.627,3.612,3.597,3.583]],[3.885,[3.657,3.643,3.628,3.613,3.597,3.582]],[3.915,[3.657,3.642,3.627,3.612,3.597,3.582]],[3.945,[3.652,3.638,3.622,3.608,3.592,3.578]],[3.975,[3.652,3.637,3.622,3.607,3.592,3.577]],[4.005,[3.648,3.632,3.618,3.602,3.588,3.574]],[4.035,[3.647,3.632,3.617,3.602,3.587]],[4.065,[3.642,3.627,3.612,3.597,3.582]],[4.095,[3.638,3.622,3.608,3.592,3.578]],[4.125,[3.628,3.612,3.597,3.582]],[4.155,[3.622,3.607,3.592,3.578]],[4.185,[3.618,3.602,3.588,3.572]],[4.22,[3.612,3.597,3.582,3.57]],[4.26,[3.603,3.588,3.572]],[4.3,[3.598,3.582,3.567]],[4.34,[3.593,3.578,3.564]],[4.42,[3.588,3.573]],[4.47,[3.592,3.577]],[4.525,[3.59,3.575]],[4.575,[3.592,3.58]],[4.625,[3.6,3.582]],[4.675,[3.6,3.582]],[4.725,[3.61,3.59]],[4.775,[3.605,3.578]],[4.825,[3.6,3.58]]];

// mass labels at the start of the tracks: text, right end in log T, centre in log L
const lmcMasses = [['158', 4.732, 6.37], ['89', 4.714, 5.97], ['58', 4.69, 5.70], ['40', 4.655, 5.295], ['28', 4.603, 4.95], ['20', 4.55, 4.578], ['14', 4.5, 4.16], ['10', 4.43, 3.775]];
const smcMasses = [['158', 4.742, 6.37], ['89', 4.735, 5.97], ['63', 4.708, 5.705], ['40', 4.666, 5.3], ['28', 4.624, 4.96], ['20', 4.572, 4.59], ['14', 4.513, 4.187], ['10', 4.45, 3.755]];

// surface abundance key
const hStops = [0, 0.1, 0.4, 0.7, 1.0];
const hColors = ['#007a00', '#ffea00', '#f00a3c', '#ffffff'];
const hLabels = ['0.0', '0.1', '0.4', '0.7'];
const legendNames = ['OB with log g > 3.8', 'OB with log g <= 3.8', 'YSG', 'RSG', 'LBV', 'WR', 'stripped stars', 'Of/WN'];

const SANS = '"Liberation Sans", Arial, sans-serif';
const SERIF = '"Liberation Serif", serif';
const RED = '#f00a3c', YELLOW = '#ffea00', GREEN = '#007a00';

const toPts = a => a.map(p => ({ x: p[0], y: p[1] }));
const rowsToPairs = rows => rows.flatMap(r => r[1].map(x => [x, r[0]]));

function starSprite(fill) {
  const c = document.createElement('canvas');
  c.width = 16; c.height = 16;
  const g = c.getContext('2d');
  g.beginPath();
  for (let i = 0; i < 10; i++) {
    const r = i % 2 ? 2.3 : 5.5;
    const a = -Math.PI / 2 + i * Math.PI / 5;
    g.lineTo(8 + r * Math.cos(a), 8.5 + r * Math.sin(a));
  }
  g.closePath();
  g.fillStyle = fill; g.fill();
  g.strokeStyle = '#000'; g.lineWidth = 1.1; g.stroke();
  return c;
}
function plusSprite() {
  const c = document.createElement('canvas');
  c.width = 12; c.height = 12;
  const g = c.getContext('2d');
  const arm = (w, col) => {
    g.strokeStyle = col; g.lineWidth = w;
    g.beginPath(); g.moveTo(6, 1.5); g.lineTo(6, 10.5); g.moveTo(1.5, 6); g.lineTo(10.5, 6); g.stroke();
  };
  arm(4.5, '#000'); arm(2.6, '#fff');
  return c;
}
const starWhite = starSprite('#fff'), starGrey = starSprite('#8a8a8a'), plusMark = plusSprite();

const markStyles = {
  obHigh: { pointStyle: 'rect', pointRadius: 4.2, pointBackgroundColor: '#fff', pointBorderColor: '#000', pointBorderWidth: 1 },
  obLow: { pointStyle: 'circle', pointRadius: 3, pointBackgroundColor: '#c9c9c9', pointBorderColor: '#000', pointBorderWidth: 1 },
  ysg: { pointStyle: 'crossRot', pointRadius: 4.4, pointBorderColor: '#55533f', pointBorderWidth: 1.2 },
  rsg: { pointStyle: 'cross', pointRadius: 3.2, pointBorderColor: '#8b2f30', pointBorderWidth: 1.5 },
  lbv: { pointStyle: 'triangle', pointRadius: 3.8, pointBackgroundColor: '#555', pointBorderColor: '#000', pointBorderWidth: 1 },
  wr: { pointStyle: starWhite, pointRadius: 6 },
  wrGrey: { pointStyle: starGrey, pointRadius: 6 },
  stripped: { pointStyle: plusMark, pointRadius: 6 },
  of: { pointStyle: 'rectRot', pointRadius: 3.7, pointBackgroundColor: '#fff', pointBorderColor: '#000', pointBorderWidth: 1 }
};

function marks(style, pairs) {
  return Object.assign({ data: toPts(pairs), showLine: false }, markStyles[style]);
}
function line(pairs, color, width, extra) {
  return Object.assign({ data: toPts(pairs), showLine: true, borderColor: color, borderWidth: width, pointRadius: 0, tension: 0.2, borderCapStyle: 'round', borderJoinStyle: 'round', fill: false }, extra || {});
}
function ends(list) {
  return {
    data: toPts(list), showLine: false, pointStyle: 'circle', pointRadius: list.map(e => e[2]),
    pointBackgroundColor: '#fff', pointBorderColor: '#000', pointBorderWidth: 1.6
  };
}
// black casing first, coloured core on top; parts are [pairs, colour, dash]
function track(parts) {
  const out = [];
  parts.forEach(p => out.push(line(p[0], '#000', 5.6)));
  parts.forEach(p => out.push(line(p[0], p[1], p[2] ? (p[2] === RISE ? 1 : 1.8) : 2.6, p[2] ? { borderDash: p[2], borderCapStyle: 'butt' } : {})));
  return out;
}

const RISE = [1, 2.2], DASH = [5, 3];
function lmcDatasets() {
  return [
    line(lmcHZams, '#111', 1.5, { borderDash: [1.5, 3] }),
    line(lmcHeZams, '#111', 1.5, { borderDash: [1.5, 3], tension: 0.3 }),
    ...lmcLbvLines.map(l => line(l, '#999', 1.3, { borderDash: [1.5, 3], tension: 0 })),
    marks('rsg', rowsToPairs(lmcRsgRows)), marks('rsg', lmcRsgOut), marks('ysg', lmcYsg),
    marks('obHigh', lmcObHigh), marks('obLow', lmcObLow), marks('wr', lmcWr), marks('wrGrey', lmcWrGrey),
    marks('of', lmcOf), marks('lbv', lmcLbv), marks('stripped', lmcStripped),
    line(hdDash, '#b02a30', 4, { borderDash: [12, 7], tension: 0, borderCapStyle: 'butt' }),
    ...track([[lmcT158Rise, '#bbb', RISE], [lmcT158Early, '#fff', DASH], [lmcT158White, '#fff'], [lmcT158Red, RED]]),
    ...track([[lmcT89Rise, '#bbb', RISE], [lmcT89Early, '#fff', DASH], [lmcT89White, '#fff'], [lmcT89Red, RED], [lmcT89Yellow, YELLOW]]),
    ...track([[lmcT58Rise, '#bbb', RISE], [lmcT58Early, '#fff', DASH], [lmcT58White, '#fff'], [lmcT58Red, RED], [lmcT58Yellow, YELLOW]]),
    ...track([[lmcT40Rise, '#bbb', RISE], [lmcT40White, '#fff'], [lmcT40Red, RED], [lmcT40Yellow, YELLOW], [lmcT40Green, GREEN]]),
    ...track([[lmcT28Rise, '#bbb', RISE], [lmcT28White, '#fff'], [lmcT28Red, RED], [lmcT28Yellow, YELLOW], [lmcT28Green, GREEN]]),
    ...track([[lmcT20Rise, '#999', RISE], [lmcT20White, '#fff'], [lmcT20Red, RED]]),
    ...track([[lmcT14Rise, '#999', RISE], [lmcT14White, '#fff']]),
    ...track([[lmcT10Rise, '#999', RISE], [lmcT10White, '#fff']]),
    ends(lmcEnds)
  ];
}
function smcDatasets() {
  return [
    line(smcHZams, '#111', 1.5, { borderDash: [1.5, 3] }),
    line(smcHeZams, '#111', 1.5, { borderDash: [1.5, 3] }),
    line(dr1Arrow, '#111', 1.1, { tension: 0, pointRadius: [4.5, 0], pointStyle: 'triangle', pointRotation: -38, pointBackgroundColor: '#111', pointBorderColor: '#111' }),
    marks('rsg', rowsToPairs(smcRsgRows)), marks('rsg', smcRsgOut), marks('ysg', smcYsg),
    marks('obHigh', smcObHigh), marks('obLow', smcObLow), marks('wr', smcWr), marks('stripped', smcStripped),
    line(hdDash, '#1f2a78', 4, { borderDash: [12, 7], tension: 0, borderCapStyle: 'butt' }),
    ...track([[smcT158Rise, '#bbb', RISE], [smcT158Early, '#fff', DASH], [smcT158White, '#fff']]),
    ...track([[smcT89Rise, '#bbb', RISE], [smcT89Early, '#fff', DASH], [smcT89White, '#fff'], [smcT89Red, RED]]),
    ...track([[smcT63Rise, '#bbb', RISE], [smcT63Early, '#fff', DASH], [smcT63White, '#fff'], [smcT63Red, RED], [smcT63Yellow, YELLOW]]),
    ...track([[smcT40Rise, '#bbb', RISE], [smcT40White, '#fff'], [smcT40Red, RED], [smcT40Yellow, YELLOW]]),
    ...track([[smcT28Rise, '#bbb', RISE], [smcT28White, '#fff'], [smcT28Red, RED], [smcT28Yellow, YELLOW]]),
    ...track([[smcT20Rise, '#999', RISE], [smcT20White, '#fff']]),
    ...track([[smcT14Rise, '#999', RISE], [smcT14White, '#fff']]),
    ...track([[smcT10Rise, '#999', RISE], [smcT10White, '#fff']]),
    ends(smcEnds)
  ];
}

function text(g, str, x, y, font, color, align) {
  g.font = font; g.fillStyle = color || '#222'; g.textAlign = align || 'left'; g.textBaseline = 'middle';
  g.fillText(str, x, y);
}
function boxedText(g, str, x, y, font, color, bg) {
  g.font = font;
  const w = g.measureText(str).width;
  g.fillStyle = bg;
  g.fillRect(x - 1, y - 9, w + 2, 18);
  text(g, str, x, y, font, color);
}

// star-count cells and HD hatching, drawn under everything else
const heatPlugin = {
  id: 'heat',
  beforeDatasetsDraw(chart, args, opts) {
    const g = chart.ctx, xs = chart.scales.x, ys = chart.scales.y, a = chart.chartArea;
    g.save();
    g.beginPath(); g.rect(a.left, a.top, a.width, a.height); g.clip();
    opts.grid.forEach((row, r) => {
      const top = ys.getPixelForValue(rowTops[r]), bot = ys.getPixelForValue(rowBottoms[r]);
      row.forEach(run => {
        const l = xs.getPixelForValue(5.3 - 0.05 * run[0]), rr = xs.getPixelForValue(5.25 - 0.05 * run[1]);
        g.fillStyle = opts.colors[run[2] - 1];
        g.fillRect(l, top, rr - l, bot - top + 0.3);
      });
    });
    g.beginPath();
    hdLimit.forEach((p, i) => {
      const px = xs.getPixelForValue(p[0]), py = ys.getPixelForValue(p[1]);
      if (i) g.lineTo(px, py); else g.moveTo(px, py);
    });
    g.closePath(); g.clip();
    g.strokeStyle = opts.hatch; g.lineWidth = 0.9;
    g.beginPath();
    for (let c = opts.phase; c < 1400; c += 14.36) { g.moveTo(c, 0); g.lineTo(0, c); }
    g.stroke();
    g.restore();
  }
};

// frame, ticks, labels, abundance key, legend
const overlayPlugin = {
  id: 'overlay',
  afterDatasetsDraw(chart, args, o) {
    const g = chart.ctx, xs = chart.scales.x, ys = chart.scales.y, a = chart.chartArea;
    g.save();
    // mass labels
    o.masses.forEach(m => {
      const x = xs.getPixelForValue(m[1]), y = ys.getPixelForValue(m[2]);
      const f = '11px ' + SANS;
      g.font = f;
      const w = g.measureText(m[0] + ' M').width;
      g.fillStyle = 'rgba(255,255,255,0.55)';
      g.fillRect(x - w - 7, y - 7, w + 8, 14);
      text(g, m[0] + ' M', x - w - 6, y, f, '#333');
      g.beginPath(); g.arc(x - 3, y + 3, 2.6, 0, 7); g.strokeStyle = '#555'; g.lineWidth = 0.7; g.stroke();
      g.beginPath(); g.arc(x - 3, y + 3, 0.6, 0, 7); g.fillStyle = '#555'; g.fill();
    });
    const zFont = '14.7px ' + SANS;
    boxedText(g, 'H-ZAMS', o.hZams[0], o.hZams[1], zFont, '#222', 'rgba(255,255,255,0.75)');
    text(g, 'He-ZAMS', o.heZams[0], o.heZams[1], zFont, '#222');
    boxedText(g, 'HD limit', 363, 203, '16.8px ' + SANS, o.hdColor, 'rgba(255,255,255,0.9)');
    if (o.dr1) text(g, 'DR1', 113, 343, '14px ' + SERIF, '#111');

    // abundance key
    const kx = o.keyX, kw = 8;
    const hy = v => 576 - v * 131;
    hColors.forEach((c, i) => { g.fillStyle = c; g.fillRect(kx, hy(hStops[i + 1]), kw, hy(hStops[i]) - hy(hStops[i + 1])); });
    g.fillStyle = '#00cfee'; g.fillRect(kx, 415, kw, 26);
    g.strokeStyle = '#000'; g.lineWidth = 1.4;
    g.strokeRect(kx, hy(1), kw, hy(0) - hy(1));
    g.strokeRect(kx, 415, kw, 26);
    const kf = 'bold 12.5px ' + SANS;
    hLabels.forEach((s, i) => {
      const y = hy(hStops[i]);
      g.beginPath(); g.moveTo(kx + kw, y); g.lineTo(kx + kw + 4, y); g.stroke();
      text(g, s, kx + kw + 8, y + (i === 0 ? 1 : 0), kf, '#000');
    });
    [[415, '1.000'], [441, '>0.005']].forEach(t => {
      g.beginPath(); g.moveTo(kx + kw, t[0]); g.lineTo(kx + kw + 4, t[0]); g.stroke();
      text(g, t[1], kx + kw + 8, t[0] + 1, kf, '#000');
    });
    g.save(); g.translate(kx + 43, 509); g.rotate(Math.PI / 2); text(g, 'H', 0, 0, 'bold 15px ' + SANS, '#000', 'center'); g.restore();
    g.save(); g.translate(kx + 67, 429); g.rotate(Math.PI / 2); text(g, 'C', 0, 0, 'bold 16px ' + SANS, '#000', 'center'); g.restore();

    if (o.legend) drawLegend(g);

    // frame and inward ticks on all four sides
    g.strokeStyle = '#222'; g.lineWidth = 1;
    const tick = (x0, y0, x1, y1) => { g.beginPath(); g.moveTo(x0, y0); g.lineTo(x1, y1); g.stroke(); };
    xMajor.concat(xMinor).forEach((v, i) => {
      const p = Math.round(xs.getPixelForValue(v)) + 0.5, len = i < xMajor.length ? 6 : 3;
      tick(p, a.bottom, p, a.bottom - len); tick(p, a.top, p, a.top + len);
    });
    yMajor.concat(yMinor).forEach((v, i) => {
      const p = Math.round(ys.getPixelForValue(v)) + 0.5, len = i < yMajor.length ? 6 : 3;
      tick(a.left, p, a.left + len, p); tick(a.right, p, a.right - len, p);
    });
    g.lineWidth = 1.3;
    g.strokeRect(a.left, a.top, a.width, a.height);

    // titles
    text(g, o.name, o.nameX, 55, '25px ' + SERIF, '#111', 'center');
    text(g, 'log (T/K)', 334, 634, '16px ' + SANS, '#222', 'center');
    g.save();
    g.translate(20, 335); g.rotate(-Math.PI / 2);
    text(g, 'log ( L / L', -44, 0, '16px ' + SANS, '#222');
    g.font = '16px ' + SANS;
    const w0 = g.measureText('log ( L / L').width;
    g.beginPath(); g.arc(-44 + w0 + 4, 4, 2.8, 0, 7); g.strokeStyle = '#222'; g.lineWidth = 0.8; g.stroke();
    g.beginPath(); g.arc(-44 + w0 + 4, 4, 0.6, 0, 7); g.fillStyle = '#222'; g.fill();
    text(g, ' )', -44 + w0 + 8, 0, '16px ' + SANS, '#222');
    g.restore();
    g.restore();
  }
};

function drawLegend(g) {
  const x = 467, y = 80, w = 135, h = 129;
  g.fillStyle = 'rgba(255,255,255,0.84)';
  g.beginPath(); g.roundRect(x, y, w, h, 3); g.fill();
  g.strokeStyle = '#555'; g.lineWidth = 1; g.stroke();
  const rows = [89, 105, 121, 136, 152, 167, 183, 199];
  const mx = 482;
  rows.forEach((ry, i) => text(g, legendNames[i], 502, ry, '10.6px ' + SANS, '#333'));
  g.strokeStyle = '#000'; g.lineWidth = 1;
  g.fillStyle = '#fff'; g.fillRect(mx - 3, rows[0] - 3, 6, 6); g.strokeRect(mx - 3, rows[0] - 3, 6, 6);
  g.fillStyle = '#c9c9c9'; g.beginPath(); g.arc(mx, rows[1], 2.8, 0, 7); g.fill(); g.stroke();
  g.strokeStyle = '#55533f';
  g.beginPath(); g.moveTo(mx - 3, rows[2] - 3); g.lineTo(mx + 3, rows[2] + 3); g.moveTo(mx + 3, rows[2] - 3); g.lineTo(mx - 3, rows[2] + 3); g.stroke();
  g.strokeStyle = '#b3323a';
  g.beginPath(); g.moveTo(mx - 3, rows[3]); g.lineTo(mx + 3, rows[3]); g.moveTo(mx, rows[3] - 3); g.lineTo(mx, rows[3] + 3); g.stroke();
  g.save(); g.setLineDash([1.5, 3]); g.strokeStyle = '#888'; g.beginPath(); g.moveTo(mx - 11, rows[4]); g.lineTo(mx + 11, rows[4]); g.stroke(); g.restore();
  g.fillStyle = '#333'; g.beginPath(); g.moveTo(mx, rows[4] - 4); g.lineTo(mx + 4, rows[4] + 3); g.lineTo(mx - 4, rows[4] + 3); g.closePath(); g.fill();
  g.drawImage(starWhite, mx - 8, rows[5] - 8);
  g.drawImage(plusMark, mx - 6, rows[6] - 6);
  g.strokeStyle = '#000'; g.fillStyle = '#fff';
  g.beginPath(); g.moveTo(mx, rows[7] - 4); g.lineTo(mx + 4, rows[7]); g.lineTo(mx, rows[7] + 4); g.lineTo(mx - 4, rows[7]); g.closePath(); g.fill(); g.stroke();
}

function panel(id, datasets, heat, overlay) {
  const sets = datasets.map((d, i) => Object.assign(d, { order: 1000 - i }));
  return new Chart(document.getElementById(id), {
    type: 'scatter',
    data: { datasets: sets },
    plugins: [heatPlugin, overlayPlugin],
    options: {
      responsive: false, animation: false, devicePixelRatio: 1,
      layout: { autoPadding: false, padding: { top: 75, right: 2, left: 0, bottom: 0 } },
      plugins: { legend: { display: false }, tooltip: { enabled: false }, heat, overlay },
      scales: {
        x: {
          type: 'linear', reverse: true, min: 3.4, max: 5.3,
          grid: { display: false, drawTicks: false }, border: { display: false },
          afterBuildTicks: s => { s.ticks = xMajor.map(v => ({ value: v })); },
          afterFit: s => { s.height = 42; s.paddingLeft = 0; s.paddingRight = 0; },
          ticks: { autoSkip: false, maxRotation: 0, padding: 7, color: '#222', font: { family: SANS, size: 16 }, callback: v => v.toFixed(1) }
        },
        y: {
          type: 'linear', min: 3.7, max: 7.2,
          grid: { display: false, drawTicks: false }, border: { display: false },
          afterBuildTicks: s => { s.ticks = yMajor.map(v => ({ value: v })); },
          afterFit: s => { s.width = 61; s.paddingTop = 0; s.paddingBottom = 0; },
          ticks: { autoSkip: false, padding: 4, color: '#222', font: { family: SANS, size: 15.5 }, callback: v => v.toFixed(1) }
        }
      }
    }
  });
}

const barTextPlugin = {
  id: 'barText',
  afterDraw(chart) {
    const g = chart.ctx, ys = chart.scales.y, a = chart.chartArea;
    g.save();
    g.strokeStyle = '#333'; g.lineWidth = 1;
    barMinor.forEach(v => {
      const p = Math.round(ys.getPixelForValue(v)) + 0.5;
      g.beginPath(); g.moveTo(a.right, p); g.lineTo(a.right - 3, p); g.stroke();
    });
    g.strokeStyle = '#444'; g.lineWidth = 1.2;
    g.strokeRect(a.left + 0.5, a.top, a.width - 1, a.height);
    [[0.1, '\u22121'], [1, '0'], [10, '1'], [100, '2']].forEach(t => {
      const p = ys.getPixelForValue(t[0]);
      g.strokeStyle = '#222'; g.lineWidth = 1;
      g.beginPath(); g.moveTo(a.right - 5, Math.round(p) + 0.5); g.lineTo(a.right + 5, Math.round(p) + 0.5); g.stroke();
      text(g, '10', a.right + 7, p + 1, '17px ' + SANS, '#222');
      g.font = '17px ' + SANS;
      text(g, t[1], a.right + 7 + g.measureText('10').width, p - 4, '14px ' + SANS, '#222');
    });
    g.save(); g.translate(63, 340); g.rotate(-Math.PI / 2);
    text(g, 'number of stars', 0, 0, '15.5px ' + SANS, '#222', 'center');
    g.restore();
    g.restore();
  }
};

function colorBar(id, colors) {
  return new Chart(document.getElementById(id), {
    type: 'bar',
    data: {
      labels: [''],
      datasets: colors.map((c, i) => ({ data: [[barLevels[i], barLevels[i + 1]]], backgroundColor: c, barPercentage: 1, categoryPercentage: 1, grouped: false, borderWidth: 0 }))
    },
    plugins: [barTextPlugin],
    options: {
      responsive: false, animation: false, devicePixelRatio: 1,
      layout: { padding: { top: 75, bottom: 42, left: 0, right: 0 } },
      plugins: { legend: { display: false }, tooltip: { enabled: false } },
      scales: {
        x: { display: false, stacked: false },
        y: {
          type: 'logarithmic', position: 'right', min: 0.1, max: 100,
          grid: { display: false }, border: { display: false },
          ticks: { callback: () => '' },
          afterFit: s => { s.width = 78; }
        }
      }
    }
  });
}

panel('lmc', lmcDatasets(), { grid: lmcGrid, colors: lmcColors, hatch: '#c0484c', phase: 500 },
  { name: 'LMC', nameX: 352, masses: lmcMasses, hZams: [206, 89], heZams: [116, 217], hdColor: '#c1343a', keyX: 88, legend: false, dr1: false });
panel('smc', smcDatasets(), { grid: smcGrid, colors: smcColors, hatch: '#35387f', phase: 491 },
  { name: 'SMC', nameX: 347, masses: smcMasses, hZams: [205, 89], heZams: [86, 210], hdColor: '#2b2f8f', keyX: 87, legend: true, dr1: true });
colorBar('lmcBar', lmcColors);
colorBar('smcBar', smcColors);
</script>
</body>
</html>
